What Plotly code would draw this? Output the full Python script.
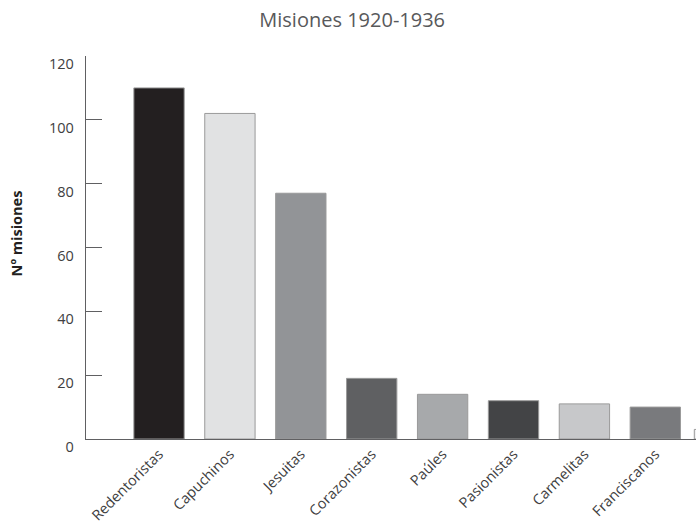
import plotly.graph_objects as go

categories = ["Redentoristas", "Capuchinos", "Jesuitas", "Corazonistas", "Paúles",
              "Pasionistas", "Carmelitas", "Franciscanos", "Otros"]
misiones = [110, 102, 77, 19, 14, 12, 11, 10, 3]
bar_colors = ["#231f20", "#e1e2e3", "#929497", "#5f6062", "#a7a9ab",
              "#434446", "#c7c8ca", "#797a7d", "#f1f1f2"]
y_ticks = [0, 20, 40, 60, 80, 100, 120]

FONT = "Open Sans, Noto Sans, sans-serif"

fig = go.Figure(go.Bar(
    x=categories,
    y=misiones,
    marker=dict(color=bar_colors, line=dict(color="#9a9a9a", width=1)),
    width=[0.71] * 8 + [0.9],
    hoverinfo="x+y",
))

fig.update_layout(
    width=696, height=525,
    margin=dict(l=86, r=0, t=56, b=86, autoexpand=False),
    paper_bgcolor="white", plot_bgcolor="white",
    showlegend=False,
    font=dict(family=FONT, color="#404041"),
    title=dict(text="Misiones 1920-1936", x=0.506, xref="container", xanchor="center",
               y=0.962, yref="container", yanchor="middle",
               font=dict(family=FONT, size=20, color="#58595b")),
)

fig.update_xaxes(
    type="category",
    range=[-1.03, 7.574],
    automargin=False,
    showline=True, linecolor="#606062", linewidth=1.4,
    ticks="", showgrid=False, zeroline=False,
    tickangle=-45,
    tickfont=dict(family=FONT, size=14.5, color="#404041"),
)

fig.update_yaxes(
    range=[0, 120],
    automargin=False,
    tickvals=y_ticks,
    showline=True, linecolor="#606062", linewidth=1.4,
    ticks="inside", ticklen=16, tickwidth=1.3, tickcolor="#606062",
    showgrid=False, zeroline=False,
    ticklabelshift=8,
    ticklabelstandoff=8,
    tickfont=dict(family=FONT, size=14.5, color="#404041"),
)

fig.add_annotation(
    text="<b>Nº misiones</b>", textangle=-90,
    xref="paper", yref="paper", x=-0.114, y=0.538,
    xanchor="center", yanchor="middle", showarrow=False,
    font=dict(family=FONT, size=14.5, color="#231f20"),
)

fig.write_html("out.html")
